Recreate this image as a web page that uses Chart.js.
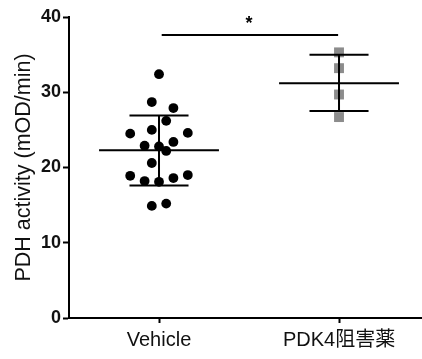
<!DOCTYPE html>
<html>
<head>
<meta charset="utf-8">
<script src="https://cdn.jsdelivr.net/npm/chart.js@4"></script>
<style>
  html, body { margin: 0; background: #fff; }
  #wrap { width: 422px; height: 359px; }
</style>
</head>
<body>
<div id="wrap"><canvas id="pdhChart"></canvas></div>
<script>
const categories = ['Vehicle', 'PDK4阻害薬'];
const vehicleValues = [32.4, 28.7, 27.9, 26.2, 24.5, 25.0, 24.6, 23.4, 22.9, 22.8, 22.2, 20.6, 18.9, 18.2, 18.1, 18.6, 19.0, 14.9, 15.2];
const vehicleJitter = [0, -0.04, 0.08, 0.04, -0.16, -0.04, 0.16, 0.08, -0.08, 0, 0.04, -0.04, -0.16, -0.08, 0, 0.08, 0.16, -0.04, 0.04];
const inhibitorValues = [35.3, 33.2, 29.7, 26.7];
const groupMeans = [22.3, 31.2];
const groupSdHigh = [26.9, 35.0];
const groupSdLow = [17.6, 27.5];
const sigBarY = 37.6;
const sigLabel = '*';
const yTicks = [0, 10, 20, 30, 40];

const FONT = '"Liberation Sans", Arial, "Noto Sans CJK JP", sans-serif';
const MEAN_HALF = 0.333;
const CAP_HALF = 0.164;

// mean line + sd caps + vertical bar, broken with null points
function errorBars(i) {
  const m = groupMeans[i], hi = groupSdHigh[i], lo = groupSdLow[i];
  return [
    {x: i - MEAN_HALF, y: m}, {x: i + MEAN_HALF, y: m}, {x: i, y: null},
    {x: i - CAP_HALF, y: hi}, {x: i + CAP_HALF, y: hi}, {x: i, y: null},
    {x: i - CAP_HALF, y: lo}, {x: i + CAP_HALF, y: lo}, {x: i, y: null},
    {x: i, y: hi}, {x: i, y: lo}
  ];
}

const lineStyle = {
  type: 'scatter',
  showLine: true,
  spanGaps: false,
  borderColor: '#000',
  borderWidth: 2,
  pointRadius: 0,
  order: 0
};

const asteriskPlugin = {
  id: 'asterisk',
  afterDatasetsDraw(chart) {
    const {ctx, scales} = chart;
    ctx.save();
    ctx.fillStyle = '#000';
    ctx.font = 'bold 18px ' + FONT;
    ctx.textAlign = 'center';
    ctx.textBaseline = 'middle';
    ctx.fillText(sigLabel, scales.x.getPixelForValue(0.5), scales.y.getPixelForValue(sigBarY) - 11);
    ctx.restore();
  }
};

new Chart(document.getElementById('pdhChart'), {
  type: 'scatter',
  data: {
    datasets: [
      {...lineStyle, data: errorBars(0)},
      {...lineStyle, data: errorBars(1)},
      {...lineStyle, data: [{x: 0.015, y: sigBarY}, {x: 0.995, y: sigBarY}]},
      {
        data: vehicleValues.map((v, k) => ({x: vehicleJitter[k], y: v})),
        backgroundColor: '#000',
        borderWidth: 0,
        pointRadius: 4.9,
        order: 1
      },
      {
        data: inhibitorValues.map(v => ({x: 1, y: v})),
        backgroundColor: '#8c8c8c',
        borderWidth: 0,
        pointStyle: 'rect',
        pointRadius: 7,
        order: 1
      }
    ]
  },
  options: {
    responsive: true,
    maintainAspectRatio: false,
    animation: false,
    clip: false,
    layout: {autoPadding: false, padding: {top: 17, right: 0, bottom: 0, left: 0}},
    plugins: {
      legend: {display: false},
      tooltip: {enabled: false}
    },
    scales: {
      x: {
        type: 'linear',
        min: -0.5,
        max: 1.461,
        afterBuildTicks: axis => { axis.ticks = categories.map((c, i) => ({value: i})); },
        afterFit: axis => { axis.height = 41; axis.paddingLeft = 0; axis.paddingRight = 0; },
        border: {display: true, color: '#000', width: 2},
        grid: {display: true, drawOnChartArea: false, drawTicks: true, tickLength: 5, tickWidth: 2, color: '#000'},
        ticks: {
          color: '#111',
          font: {family: FONT, size: 20},
          padding: 5,
          maxRotation: 0,
          autoSkip: false,
          callback: v => categories[v]
        }
      },
      y: {
        min: 0,
        max: 40,
        afterBuildTicks: axis => { axis.ticks = yTicks.map(v => ({value: v})); },
        afterFit: axis => { axis.width = 69; },
        border: {display: true, color: '#000', width: 2},
        grid: {display: true, drawOnChartArea: false, drawTicks: true, tickLength: 6, tickWidth: 2, color: '#000'},
        ticks: {
          color: '#111',
          font: {family: FONT, size: 18, weight: 'bold'},
          padding: 2
        },
        title: {
          display: true,
          text: 'PDH activity (mOD/min)',
          color: '#111',
          font: {family: FONT, size: 21.5},
          padding: {top: 11, bottom: 0}
        }
      }
    }
  },
  plugins: [asteriskPlugin]
});
</script>
</body>
</html>
